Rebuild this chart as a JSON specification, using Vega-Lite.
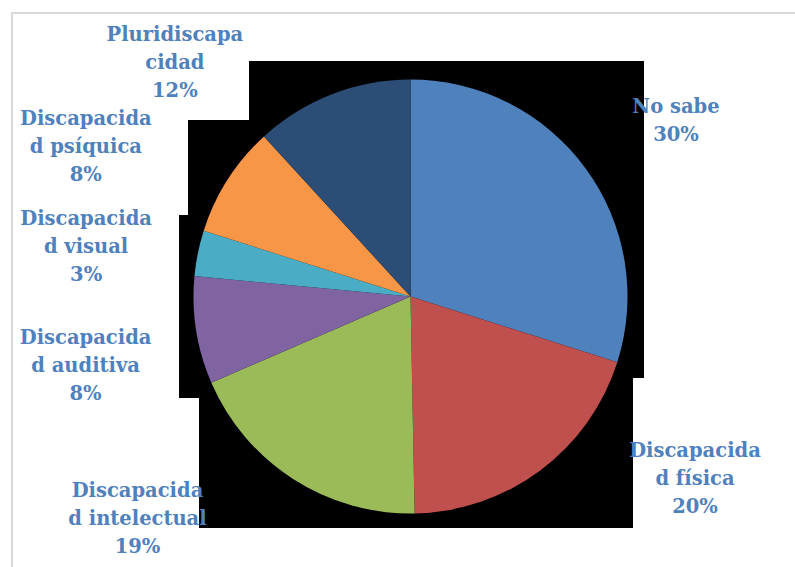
{
  "$schema": "https://vega.github.io/schema/vega-lite/v6.json",
  "autosize": {"type": "fit", "contains": "padding"},
  "width": 795,
  "height": 567,
  "padding": {"left": 12, "top": 13, "right": -14, "bottom": -13},
  "background": "white",
  "view": {"stroke": "#D9D9D9", "strokeWidth": 2, "fill": "white"},
  "config": {"view": {"stroke": "#D9D9D9", "strokeWidth": 2}},
  "data": {
    "values": [
      {"ord": 1, "cat": "No sabe", "value": 29.9, "label": "No sabe\n30%"},
      {"ord": 2, "cat": "Discapacidad física", "value": 19.8, "label": "Discapacida\nd física\n20%"},
      {"ord": 3, "cat": "Discapacidad intelectual", "value": 18.8, "label": "Discapacida\nd intelectual\n19%"},
      {"ord": 4, "cat": "Discapacidad auditiva", "value": 8.0, "label": "Discapacida\nd auditiva\n8%"},
      {"ord": 5, "cat": "Discapacidad visual", "value": 3.4, "label": "Discapacida\nd visual\n3%"},
      {"ord": 6, "cat": "Discapacidad psíquica", "value": 8.3, "label": "Discapacida\nd psíquica\n8%"},
      {"ord": 7, "cat": "Pluridiscapacidad", "value": 11.8, "label": "Pluridiscapa\ncidad\n12%"}
    ]
  },
  "transform": [
    {"stack": "value", "groupby": [], "sort": [{"field": "ord", "order": "ascending"}], "as": ["v0", "v1"]},
    {"calculate": "(datum.v0 + datum.v1) / 2", "as": "mid"}
  ],
  "layer": [
    {
      "transform": [{"filter": "datum.ord == 1"}],
      "mark": {
        "type": "point",
        "shape": "M-0.6916,-1.0086L1,-1.0086L1,0.349L0.9529,0.349L0.9529,0.9914L-0.9058,0.9914L-0.9058,0.4347L-0.9914,0.4347L-0.9914,-0.349L-0.9529,-0.349L-0.9529,-0.7559L-0.6916,-0.7559Z",
        "size": 218089,
        "filled": true,
        "color": "black",
        "opacity": 1,
        "strokeWidth": 0
      },
      "encoding": {}
    },
    {
      "mark": {"type": "arc", "outerRadius": 217},
      "encoding": {
        "theta": {"field": "v0", "type": "quantitative", "scale": {"domain": [0, 100]}},
        "theta2": {"field": "v1"},
        "color": {
          "field": "cat",
          "type": "nominal",
          "legend": null,
          "scale": {
            "domain": ["No sabe", "Discapacidad física", "Discapacidad intelectual", "Discapacidad auditiva", "Discapacidad visual", "Discapacidad psíquica", "Pluridiscapacidad"],
            "range": ["#4F81BD", "#C0504D", "#9BBB59", "#8064A2", "#4BACC6", "#F79646", "#2C4D75"]
          }
        }
      }
    },
    {
      "transform": [{"filter": "datum.ord == 1"}],
      "mark": {"type": "text", "radius": 319, "dx": 8, "dy": -1, "align": "center", "baseline": "middle", "font": "DejaVu Serif", "fontSize": 19.5, "fontWeight": "bold", "lineHeight": 28, "lineBreak": "\n", "color": "#4F81BD"},
      "encoding": {"theta": {"field": "mid", "type": "quantitative", "stack": null, "scale": {"domain": [0, 100]}}, "text": {"field": "label", "type": "nominal"}}
    },
    {
      "transform": [{"filter": "datum.ord == 2"}],
      "mark": {"type": "text", "radius": 337, "dx": 83, "dy": -116, "align": "center", "baseline": "middle", "font": "DejaVu Serif", "fontSize": 19.5, "fontWeight": "bold", "lineHeight": 28, "lineBreak": "\n", "color": "#4F81BD"},
      "encoding": {"theta": {"field": "mid", "type": "quantitative", "stack": null, "scale": {"domain": [0, 100]}}, "text": {"field": "label", "type": "nominal"}}
    },
    {
      "transform": [{"filter": "datum.ord == 3"}],
      "mark": {"type": "text", "radius": 353, "dx": -82, "dy": -102, "align": "center", "baseline": "middle", "font": "DejaVu Serif", "fontSize": 19.5, "fontWeight": "bold", "lineHeight": 28, "lineBreak": "\n", "color": "#4F81BD"},
      "encoding": {"theta": {"field": "mid", "type": "quantitative", "stack": null, "scale": {"domain": [0, 100]}}, "text": {"field": "label", "type": "nominal"}}
    },
    {
      "transform": [{"filter": "datum.ord == 4"}],
      "mark": {"type": "text", "radius": 332, "dx": 3, "dy": -10, "align": "center", "baseline": "middle", "font": "DejaVu Serif", "fontSize": 19.5, "fontWeight": "bold", "lineHeight": 28, "lineBreak": "\n", "color": "#4F81BD"},
      "encoding": {"theta": {"field": "mid", "type": "quantitative", "stack": null, "scale": {"domain": [0, 100]}}, "text": {"field": "label", "type": "nominal"}}
    },
    {
      "transform": [{"filter": "datum.ord == 5"}],
      "mark": {"type": "text", "radius": 328, "dx": -3, "dy": -12, "align": "center", "baseline": "middle", "font": "DejaVu Serif", "fontSize": 19.5, "fontWeight": "bold", "lineHeight": 28, "lineBreak": "\n", "color": "#4F81BD"},
      "encoding": {"theta": {"field": "mid", "type": "quantitative", "stack": null, "scale": {"domain": [0, 100]}}, "text": {"field": "label", "type": "nominal"}}
    },
    {
      "transform": [{"filter": "datum.ord == 6"}],
      "mark": {"type": "text", "radius": 358, "dx": -23, "dy": 15, "align": "center", "baseline": "middle", "font": "DejaVu Serif", "fontSize": 19.5, "fontWeight": "bold", "lineHeight": 28, "lineBreak": "\n", "color": "#4F81BD"},
      "encoding": {"theta": {"field": "mid", "type": "quantitative", "stack": null, "scale": {"domain": [0, 100]}}, "text": {"field": "label", "type": "nominal"}}
    },
    {
      "transform": [{"filter": "datum.ord == 7"}],
      "mark": {"type": "text", "radius": 333, "dx": -115, "dy": 49, "align": "center", "baseline": "middle", "font": "DejaVu Serif", "fontSize": 19.5, "fontWeight": "bold", "lineHeight": 28, "lineBreak": "\n", "color": "#4F81BD"},
      "encoding": {"theta": {"field": "mid", "type": "quantitative", "stack": null, "scale": {"domain": [0, 100]}}, "text": {"field": "label", "type": "nominal"}}
    }
  ]
}
